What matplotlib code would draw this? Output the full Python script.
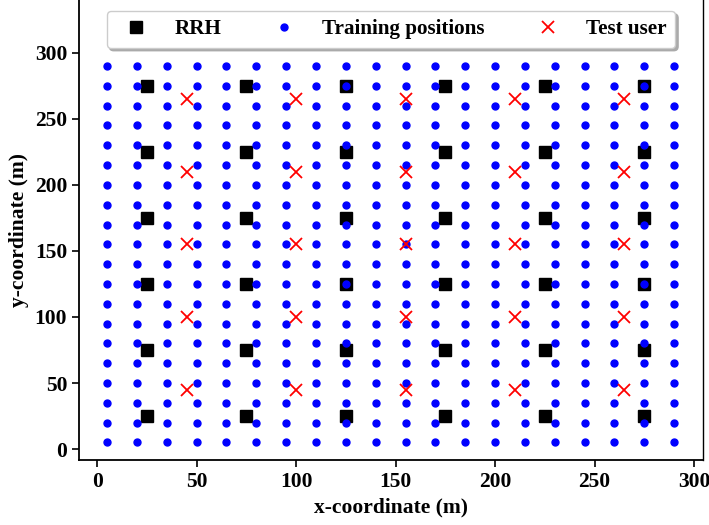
import matplotlib
matplotlib.use("Agg")
import matplotlib.pyplot as plt
import numpy as np

rrh_coords = [25, 75, 125, 175, 225, 275]
train_coords = [5, 20, 35, 50, 65, 80, 95, 110, 125, 140, 155, 170, 185, 200, 215, 230, 245, 260, 275, 290]
test_coords = [45, 100, 155, 210, 265]
xticks = [0, 50, 100, 150, 200, 250, 300]
yticks = [0, 50, 100, 150, 200, 250, 300]

plt.rcParams['font.family'] = ['Liberation Serif', 'DejaVu Serif']
plt.rcParams['font.weight'] = 'bold'

fig = plt.figure(figsize=(7.09, 5.25), dpi=100)
ax = fig.add_axes([0.1114, 0.1238, 0.8801, 0.8762])

rx, ry = np.meshgrid(rrh_coords, rrh_coords)
tx, ty = np.meshgrid(train_coords, train_coords)
ux, uy = np.meshgrid(test_coords, test_coords)

ax.plot(rx.ravel(), ry.ravel(), 's', color='black', markersize=8.8, linestyle='none', label='RRH')
ax.plot(tx.ravel(), ty.ravel(), 'o', color='blue', markersize=5, linestyle='none', label='Training positions')
ax.plot(ux.ravel(), uy.ravel(), 'x', color='red', markersize=8.2, markeredgewidth=1.3, linestyle='none', label='Test user')

ax.set_xlim(-9.1, 304.5)
ax.set_ylim(-8.3, 340)
ax.set_xticks(xticks)
ax.set_yticks(yticks)
ax.tick_params(labelsize=15.5, direction='out', length=5, width=1.2)
for lab in ax.get_xticklabels() + ax.get_yticklabels():
    lab.set_fontweight('bold')
ax.spines['top'].set_visible(False)
for s in ['left', 'bottom']:
    ax.spines[s].set_linewidth(1.3)
ax.spines['right'].set_linewidth(1.0)

ax.set_xlabel('x-coordinate (m)', fontsize=15.5, fontweight='bold', labelpad=4)
ax.set_ylabel('y-coordinate (m)', fontsize=15.5, fontweight='bold', labelpad=4)

leg = ax.legend(loc='upper center', bbox_to_anchor=(0.5, 0.976), ncol=3, fontsize=15.2,
                frameon=True, shadow={'color': '#aaaaaa', 'alpha': 1.0}, fancybox=True, handletextpad=0.8,
                handlelength=2.0, columnspacing=2.0, borderpad=0.4, borderaxespad=0.0)
leg.get_frame().set_edgecolor('#cccccc')
for t in leg.get_texts():
    t.set_fontweight('bold')

fig.savefig('out.png', dpi=100)
